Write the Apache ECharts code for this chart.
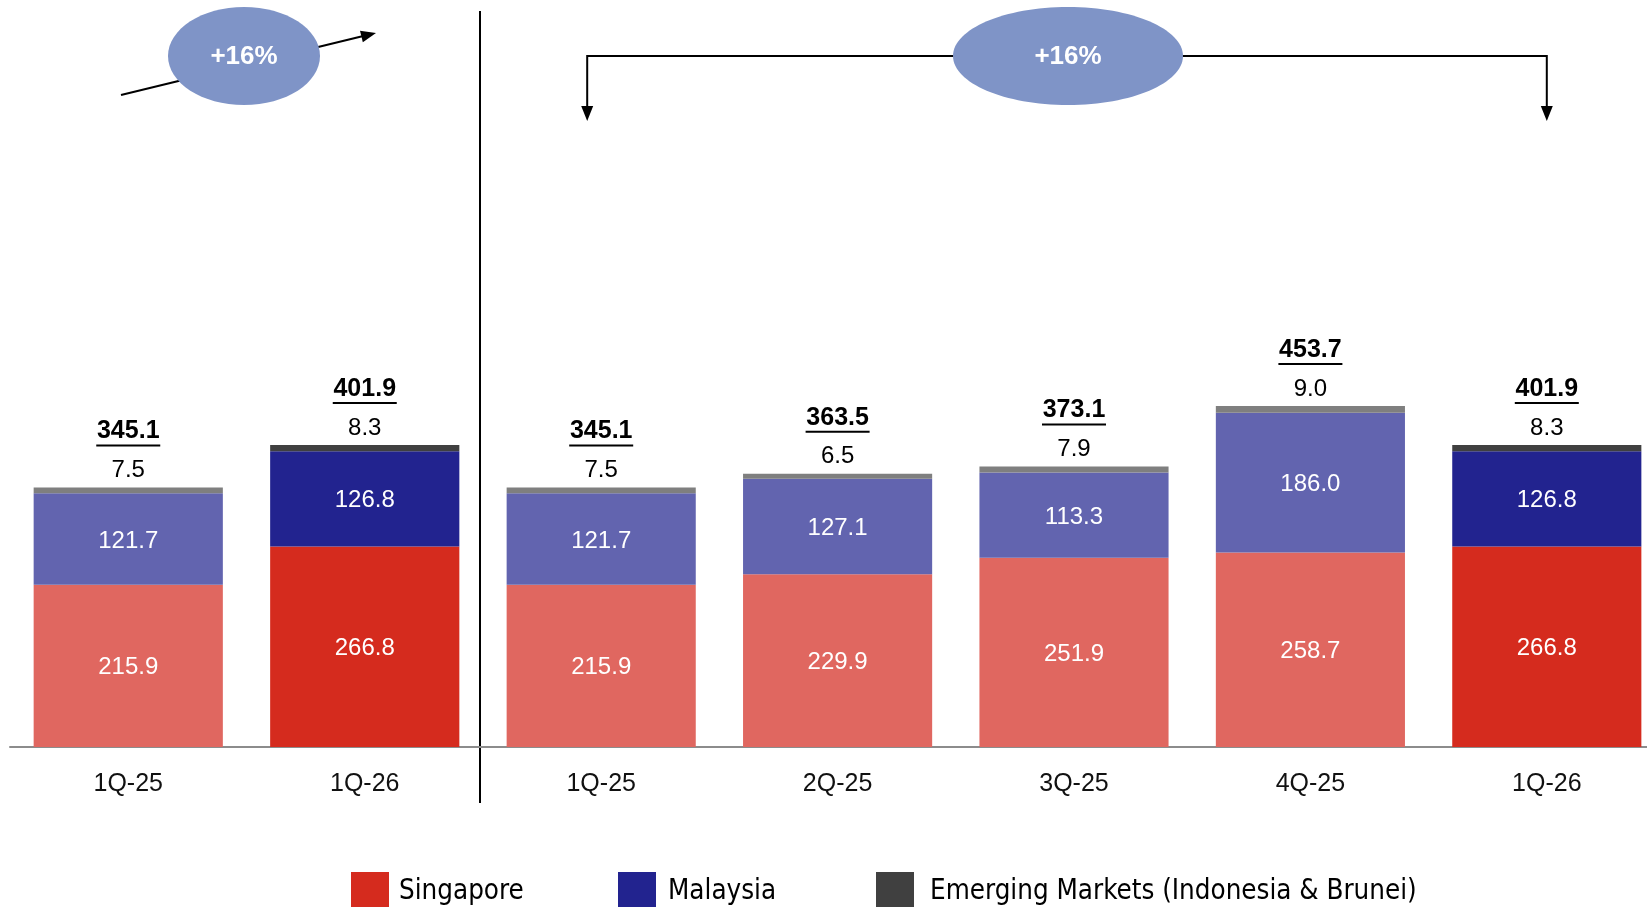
<!DOCTYPE html>
<html>
<head>
<meta charset="utf-8">
<script src="https://cdn.jsdelivr.net/npm/echarts@6/dist/echarts.min.js"></script>
<style>
  html, body { margin: 0; padding: 0; background: #fff; }
  #chart { width: 1647px; height: 907px; }
</style>
</head>
<body>
<div id="chart"></div>
<script>
// ---- data ----
const quartersLeft = ['1Q-25', '1Q-26'];
const quartersRight = ['1Q-25', '2Q-25', '3Q-25', '4Q-25', '1Q-26'];
const singaporeLeft = [215.9, 266.8];
const malaysiaLeft = [121.7, 126.8];
const emergingLeft = [7.5, 8.3];
const singaporeRight = [215.9, 229.9, 251.9, 258.7, 266.8];
const malaysiaRight = [121.7, 127.1, 113.3, 186.0, 126.8];
const emergingRight = [7.5, 6.5, 7.9, 9.0, 8.3];
const seriesNames = ['Singapore', 'Malaysia', 'Emerging Markets (Indonesia & Brunei)'];
const growthLabels = ['+16%', '+16%'];

// ---- styles ----
const darkColors = ['#D52B1E', '#22238F', '#404040'];
const lightColors = ['#E06760', '#6264AF', '#7F7F7F'];
const numFont = '"Liberation Sans", Arial, sans-serif';
const legendFont = '"Liberation Sans Narrow", "DejaVu Sans Condensed", sans-serif';

const chart = echarts.init(document.getElementById('chart'));

function panelSeries(gridIdx, sgp, mys, em) {
  const n = sgp.length;
  const totals = sgp.map((v, i) => sgp[i] + mys[i] + em[i]);
  const stack = 'p' + gridIdx;
  const colorFor = (k, i) => (i === n - 1 ? darkColors[k] : lightColors[k]);
  const mk = (k, vals) => vals.map((v, i) => ({ value: v, itemStyle: { color: colorFor(k, i) } }));
  const insideLabel = {
    show: true, position: 'inside', color: '#fff', fontSize: 24, offset: [0, 2],
    fontFamily: numFont, formatter: p => p.value.toFixed(1)
  };
  return [
    {
      name: seriesNames[0], type: 'bar', stack, xAxisIndex: gridIdx, yAxisIndex: gridIdx,
      barCategoryGap: '20%', itemStyle: { color: darkColors[0] },
      data: mk(0, sgp), label: insideLabel, silent: true
    },
    {
      name: seriesNames[1], type: 'bar', stack, xAxisIndex: gridIdx, yAxisIndex: gridIdx,
      barCategoryGap: '20%', itemStyle: { color: darkColors[1] },
      data: mk(1, mys), label: insideLabel, silent: true
    },
    {
      name: seriesNames[2], type: 'bar', stack, xAxisIndex: gridIdx, yAxisIndex: gridIdx,
      barCategoryGap: '20%', itemStyle: { color: darkColors[2] },
      data: mk(2, em), silent: true,
      label: {
        show: true, position: 'top', distance: 2, color: '#000', fontFamily: numFont,
        formatter: p => `{t|${totals[p.dataIndex].toFixed(1)}}\n{u|}\n{v|${p.value.toFixed(1)}}`,
        rich: {
          t: { fontSize: 25, fontWeight: 'bold', lineHeight: 26, color: '#000', fontFamily: numFont },
          u: { width: 64, height: 2, backgroundColor: '#000', lineHeight: 11, verticalAlign: 'top' },
          v: { fontSize: 24, lineHeight: 30, color: '#000', fontFamily: numFont }
        }
      }
    }
  ];
}

function xAxisFor(gridIdx, cats) {
  return {
    type: 'category', gridIndex: gridIdx, data: cats,
    axisLine: { lineStyle: { color: '#8c8c8c', width: 2 } },
    axisTick: { show: false },
    axisLabel: { fontSize: 25, color: '#111', margin: 25, fontFamily: numFont }
  };
}
function yAxisFor(gridIdx) {
  return { type: 'value', gridIndex: gridIdx, min: 0, max: 600, show: false, splitLine: { show: false } };
}

const legendLefts = [351, 618, 876];
const legendTextGaps = [5, 7, 11];

const option = {
  animation: false,
  backgroundColor: '#fff',
  grid: [
    { left: 10, width: 473, top: 296, height: 451, outerBoundsMode: 'none', containLabel: false },
    { left: 483, width: 1182, top: 296, height: 451, outerBoundsMode: 'none', containLabel: false }
  ],
  xAxis: [xAxisFor(0, quartersLeft), xAxisFor(1, quartersRight)],
  yAxis: [yAxisFor(0), yAxisFor(1)],
  legend: seriesNames.map((nm, k) => ({
    data: [nm], left: legendLefts[k], top: 872, itemWidth: 38, itemHeight: 40, padding: 0,
    icon: 'rect', selectedMode: false,
    textStyle: { fontSize: 27.5, color: '#000', fontFamily: legendFont, padding: [0, 0, 0, legendTextGaps[k]] }
  })),
  series: [
    ...panelSeries(0, singaporeLeft, malaysiaLeft, emergingLeft),
    ...panelSeries(1, singaporeRight, malaysiaRight, emergingRight)
  ]
};
chart.setOption(option);

// ---- annotations (arrows, bubbles, divider) ----
function arrowHead(tip, dir, len, half) {
  const bx = tip[0] - dir[0] * len, by = tip[1] - dir[1] * len;
  const px = -dir[1], py = dir[0];
  return [[tip[0], tip[1]], [bx + px * half, by + py * half], [bx - px * half, by - py * half]];
}
const black = '#000';
const bubbleColor = '#7F94C7';

const rightLast = chart.convertToPixel({ xAxisIndex: 1, yAxisIndex: 1 }, [quartersRight.length - 1, 0]);
const rightFirst = chart.convertToPixel({ xAxisIndex: 1, yAxisIndex: 1 }, [0, 0]);
const divX = 480;
const bracketY = 56;
const bracketL = rightFirst[0] - 14;
const bracketR = rightLast[0];
const arrowTipY = 121;

// left arrow
const la0 = [121, 95], la1 = [376, 33];
const dl = Math.hypot(la1[0] - la0[0], la1[1] - la0[1]);
const ldir = [(la1[0] - la0[0]) / dl, (la1[1] - la0[1]) / dl];

const graphics = [
  { type: 'line', shape: { x1: divX, y1: 11, x2: divX, y2: 803 }, style: { stroke: black, lineWidth: 2 } },
  // left arrow
  { type: 'line', shape: { x1: la0[0], y1: la0[1], x2: la1[0] - ldir[0] * 12, y2: la1[1] - ldir[1] * 12 }, style: { stroke: black, lineWidth: 2 } },
  { type: 'polygon', shape: { points: arrowHead(la1, ldir, 15, 6) }, style: { fill: black } },
  { type: 'ellipse', shape: { cx: 244, cy: 56, rx: 76, ry: 49 }, style: { fill: bubbleColor } },
  { type: 'text', x: 244, y: 57, style: { text: growthLabels[0], fill: '#fff', fontSize: 26, fontWeight: 'bold', fontFamily: numFont, align: 'center', verticalAlign: 'middle' } },
  // bracket
  { type: 'polyline', shape: { points: [[bracketL, arrowTipY - 12], [bracketL, bracketY], [bracketR, bracketY], [bracketR, arrowTipY - 12]] }, style: { stroke: black, lineWidth: 2, fill: null } },
  { type: 'polygon', shape: { points: arrowHead([bracketL, arrowTipY], [0, 1], 15, 6) }, style: { fill: black } },
  { type: 'polygon', shape: { points: arrowHead([bracketR, arrowTipY], [0, 1], 15, 6) }, style: { fill: black } },
  { type: 'ellipse', shape: { cx: 1068, cy: 56, rx: 115, ry: 49 }, style: { fill: bubbleColor } },
  { type: 'text', x: 1068, y: 57, style: { text: growthLabels[1], fill: '#fff', fontSize: 26, fontWeight: 'bold', fontFamily: numFont, align: 'center', verticalAlign: 'middle' } }
];
chart.setOption({ graphic: graphics });
</script>
</body>
</html>
